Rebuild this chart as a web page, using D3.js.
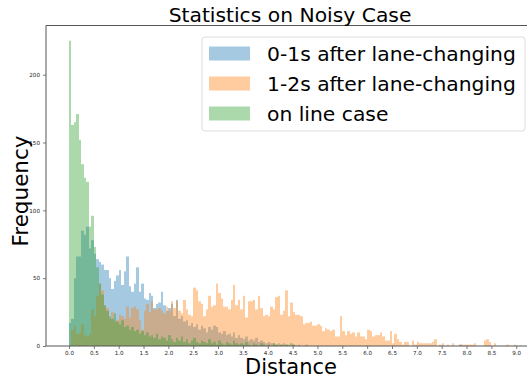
<!DOCTYPE html>
<html><head><meta charset="utf-8">
<script src="https://cdn.jsdelivr.net/npm/d3@7/dist/d3.min.js"></script>
<style>
body{margin:0;background:#fff}
svg{display:block}
text{font-family:"DejaVu Sans",sans-serif}
</style>
</head><body>
<svg id="chart" width="527" height="382"></svg>
<script>
// ---- data ----
const binWidth = 0.05;
const seriesNames = ["0-1s after lane-changing", "1-2s after lane-changing", "on line case"];
const seriesColors = ["#1f77b4", "#ff7f0e", "#2ca02c"];
const blueCounts = [17,20,50,66,66,85,82,88,72,78,68,64,62,60,56,56,50,42,48,52,56,45,55,66,44,40,46,58,40,46,
  35,34,39,37,28,31,32,40,30,26,28,31,22,34,20,22,18,19,15,17,14,16,12,15,13,10,14,12,15,14,
  10,9,11,8,9,7,10,6,8,6,5,7,4,5,4,6,3,4,3,2,3,2,2,1,2,1,2,1,1,0,1,0,1,0,0,1,0,0,0,0,
  0,0,0,0,0,0,0,0,0,0,0,0,0,0,0,0,0,0,0,0,0,0,0,0,0,0,0,0,0,0,0,0,0,0,0,0,0,0,0,0,
  0,0,0,0,0,0,0,0,0,0,0,0,0,0,0,0,0,1];
const orangeCounts = [0,12,15,9,10,16,8,7,9,27,22,37,46,41,30,28,20,25,18,19,23,22,20,29,21,28,29,27,19,12,
  26,31,25,33,27,27,28,26,24,29,26,33,28,33,26,24,34,27,23,22,43,41,33,31,22,27,37,29,30,46,
  39,35,29,29,27,34,45,30,34,27,37,21,33,33,34,27,37,28,22,23,22,29,27,36,37,23,26,41,22,32,
  25,23,23,22,16,17,17,18,15,15,16,15,11,13,12,11,12,7,7,22,11,8,11,9,10,7,10,7,7,5,
  12,11,7,8,8,10,7,4,4,11,2,9,5,3,1,3,3,0,4,1,3,2,2,2,2,2,3,5,0,1,
  2,0,1,0,2,0,0,1,1,1,1,1,1,2,0,0,0,4,5,3,0,2,0,0,0,0,1,0,0,1];
const greenCounts = [225,163,165,171,152,134,124,121,88,96,73,58,46,38,30,26,22,20,24,18,16,19,14,15,12,14,11,12,9,11,
  8,10,7,8,6,9,5,7,6,4,8,5,3,6,4,7,3,5,2,4,6,3,2,4,3,2,5,2,3,1,
  4,2,1,3,2,1,4,2,1,2,1,3,1,0,2,1,0,2,1,0,1,0,2,1,0,1,0,1,0,2,1];
const xTickValues = [0,0.5,1,1.5,2,2.5,3,3.5,4,4.5,5,5.5,6,6.5,7,7.5,8,8.5,9];
const yTickValues = [0,50,100,150,200];
const titleText = "Statistics on Noisy Case";
const xLabel = "Distance";
const yLabel = "Frequency";

// ---- layout ----
const svg = d3.select("#chart");
const plotLeft = 46, plotRight = 552, plotTop = 25.5, plotBottom = 346;
const allCounts = [blueCounts, orangeCounts, greenCounts];
const yMax = d3.max(allCounts.flat()) * 1.05;

const x = d3.scaleLinear().domain([-0.463, 9.72]).range([plotLeft, plotRight]);
const y = d3.scaleLinear().domain([0, yMax]).range([plotBottom, plotTop]);

// bars
allCounts.forEach((counts, si) => {
  const bins = counts.map((v, i) => ({x0: i * binWidth, x1: (i + 1) * binWidth, v}))
                     .filter(d => d.v > 0);
  svg.append("g")
    .selectAll("rect").data(bins).join("rect")
    .attr("x", d => Math.round(x(d.x0)))
    .attr("width", d => Math.round(x(d.x1)) - Math.round(x(d.x0)))
    .attr("y", d => y(d.v))
    .attr("height", d => plotBottom - y(d.v))
    .attr("fill", seriesColors[si])
    .attr("fill-opacity", 0.4);
});

// axes
const xAxis = d3.axisBottom(x).tickValues(xTickValues).tickFormat(d3.format(".1f")).tickSize(3).tickPadding(2);
const yAxis = d3.axisLeft(y).tickValues(yTickValues).tickFormat(d3.format("d")).tickSize(3).tickPadding(3);

const gx = svg.append("g").attr("transform", `translate(0,${plotBottom})`).call(xAxis);
const gy = svg.append("g").attr("transform", `translate(${plotLeft},0)`).call(yAxis);
[gx, gy].forEach(g => {
  g.selectAll("text").style("font-size", "5.6px").attr("fill", "#222");
  g.selectAll("line").attr("stroke", "#444").attr("stroke-width", 0.7);
  g.select(".domain").remove();
});

// spines
const spine = svg.append("g").attr("stroke", "#555").attr("stroke-width", 1).attr("fill", "none");
spine.append("line").attr("x1", plotLeft).attr("x2", plotLeft).attr("y1", plotTop).attr("y2", plotBottom);
spine.append("line").attr("x1", plotLeft).attr("x2", plotRight).attr("y1", plotBottom).attr("y2", plotBottom);
spine.append("line").attr("x1", plotLeft).attr("x2", plotRight).attr("y1", plotTop).attr("y2", plotTop);

// title and labels
svg.append("text").attr("x", 290).attr("y", 22).attr("text-anchor", "middle")
  .style("font-size", "20.3px").attr("fill", "#000").text(titleText);
svg.append("text").attr("x", 291).attr("y", 374).attr("text-anchor", "middle")
  .style("font-size", "21px").attr("fill", "#000").text(xLabel);
svg.append("text").attr("transform", "translate(28,191) rotate(-90)").attr("text-anchor", "middle")
  .style("font-size", "21.5px").attr("fill", "#000").text(yLabel);

// legend
const lg = svg.append("g");
lg.append("rect").attr("x", 202).attr("y", 37).attr("width", 323).attr("height", 94)
  .attr("rx", 3).attr("fill", "#fff").attr("fill-opacity", 0.8).attr("stroke", "#ddd").attr("stroke-width", 1);
seriesNames.forEach((name, i) => {
  const cy = 53.5 + i * 30;
  lg.append("rect").attr("x", 209).attr("y", cy - 7).attr("width", 41).attr("height", 14)
    .attr("fill", seriesColors[i]).attr("fill-opacity", 0.4);
  lg.append("text").attr("x", 267).attr("y", cy + 7.6).style("font-size", "20.3px")
    .attr("fill", "#000").text(name);
});
</script>
</body></html>
